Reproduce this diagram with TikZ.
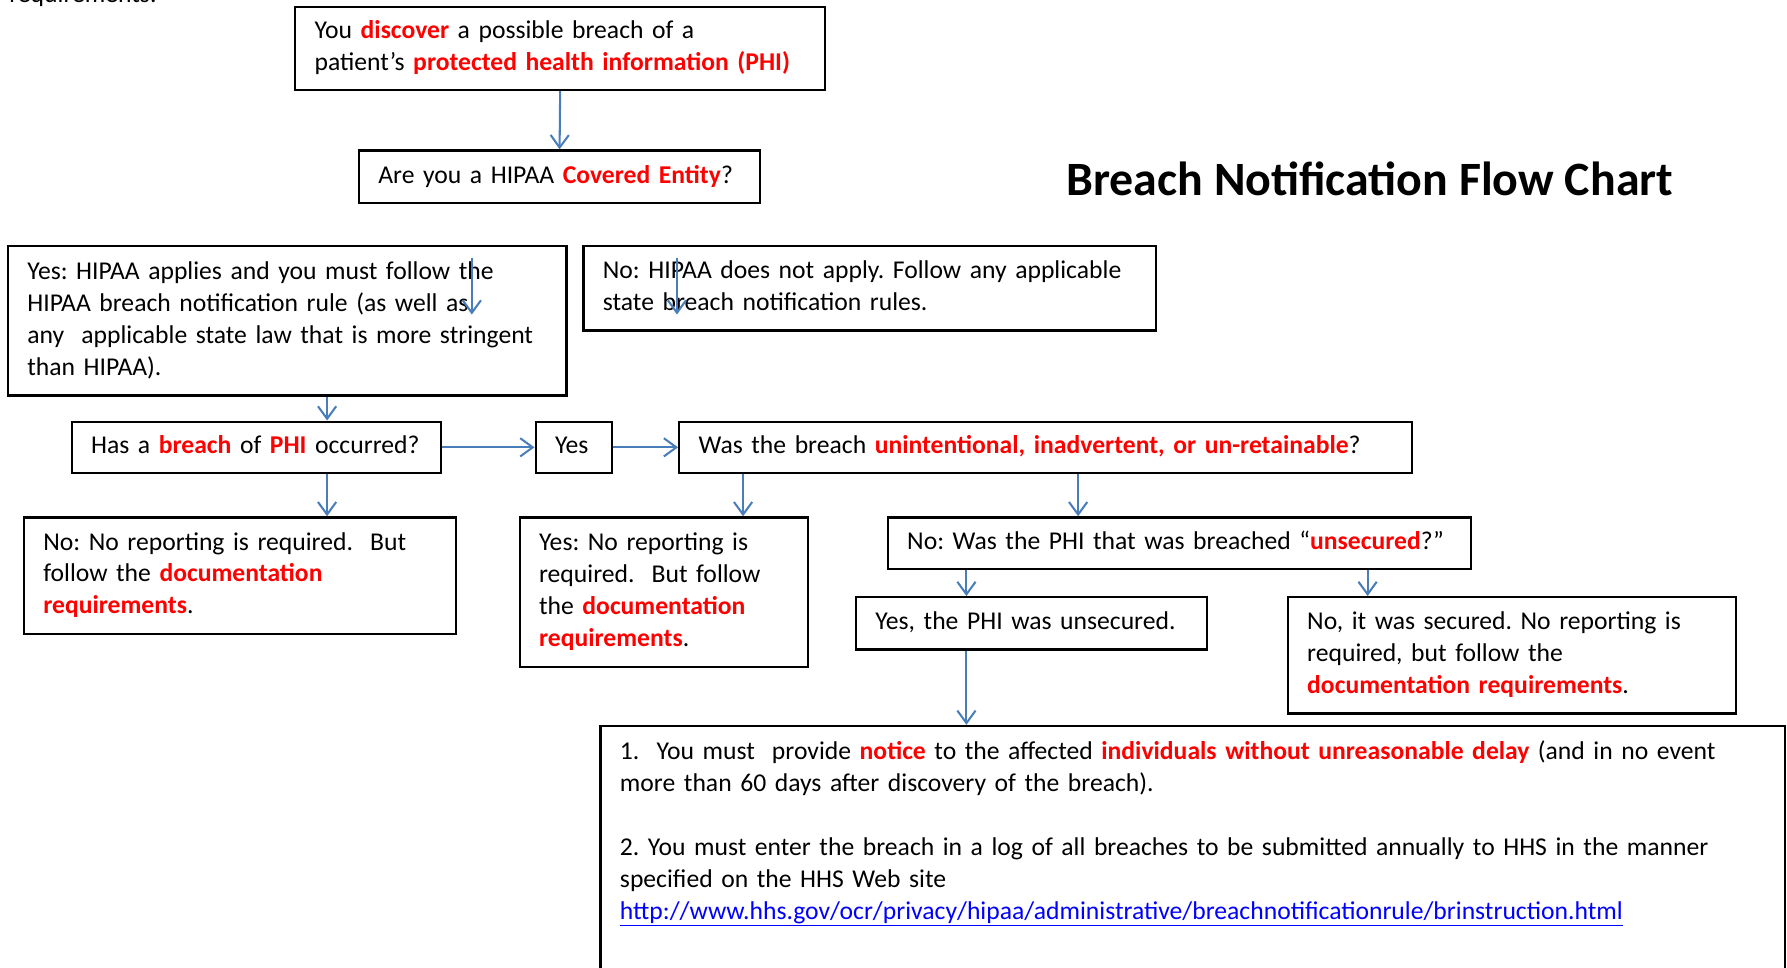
\documentclass[tikz,border=0pt]{standalone}
\usepackage{fontspec}
\setmainfont{Carlito}
\usetikzlibrary{arrows.meta}
\definecolor{hred}{HTML}{FF0000}
\definecolor{arblue}{HTML}{4A7EBB}
\definecolor{lnk}{HTML}{0000FF}
\newcommand\redb[1]{\textcolor{hred}{\bfseries #1}}
\newcommand\Ln[1]{\mbox{\strut #1}}
\frenchspacing
\hyphenpenalty=10000
\exhyphenpenalty=10000
\tikzset{
 box/.style={draw=black, line width=2pt, rectangle, anchor=north west, align=left,
   inner xsep=17pt, inner ysep=0pt, font=\fontsize{22.5}{28}\selectfont},
 arr/.style={draw=arblue, line width=1.8pt, -{Straight Barb[length=11pt,width=16pt]}},
}
\begin{document}
\begin{tikzpicture}[x=1pt,y=-1pt]
\useasboundingbox (0,0) rectangle (1568,849);
\clip (0,0) rectangle (1568,849);
\fill[white] (0,0) rectangle (1568,849);
\node[anchor=base west, inner sep=0pt, font=\fontsize{22.5}{28}\selectfont] (req) at (8,2) {requirements.};
\node[font=\fontsize{42}{46}\selectfont\bfseries, inner sep=0pt] (title) at (1202,157) {Breach Notification Flow Chart};

\node[box, text width=431pt, minimum height=73pt] (n1) at (258,5)
 {\Ln{You \redb{discover} a possible breach of a}\\\Ln{patient’s \redb{protected health information (PHI)}}};
\node[box, text width=318pt, minimum height=46pt] (n2) at (314,131)
 {\Ln{Are you a HIPAA \redb{Covered Entity}?}};
\node[box, text width=456pt, minimum height=131pt] (n3) at (6,215)
 {\Ln{Yes: HIPAA applies and you must follow the}\\\Ln{HIPAA breach notification rule (as well as}\\\Ln{any~ applicable state law that is more stringent}\\\Ln{than HIPAA).}};
\node[box, text width=468pt, minimum height=74pt] (n4) at (511,215)
 {\Ln{No: HIPAA does not apply. Follow any applicable}\\\Ln{state breach notification rules.}};
\node[box, text width=290pt, minimum height=45pt] (n5) at (62,369)
 {\Ln{Has a \redb{breach} of \redb{PHI} occurred?}};
\node[box, text width=33pt, minimum height=45pt] (n6) at (469,369)
 {\Ln{Yes}};
\node[box, text width=609pt, minimum height=45pt] (n7) at (595,369)
 {\Ln{Was the breach \redb{unintentional, inadvertent, or un-retainable}?}};
\node[box, text width=345pt, minimum height=102pt] (n8) at (20,453)
 {\Ln{No: No reporting is required.~ But}\\\Ln{follow the \redb{documentation}}\\\Ln{\redb{requirements}.}};
\node[box, text width=219pt, minimum height=131pt] (n9) at (455,453)
 {\Ln{Yes: No reporting is}\\\Ln{required.~ But follow}\\\Ln{the \redb{documentation}}\\\Ln{\redb{requirements}.}};
\node[box, text width=478pt, minimum height=45pt] (n10) at (778,453)
 {\Ln{No: Was the PHI that was breached “\redb{unsecured}?”}};
\node[box, text width=274pt, minimum height=46pt] (n11) at (750,523)
 {\Ln{Yes, the PHI was unsecured.}};
\node[box, text width=359pt, minimum height=102pt] (n12) at (1129,523)
 {\Ln{No, it was secured. No reporting is}\\\Ln{required, but follow the}\\\Ln{\redb{documentation requirements}.}};
\node[box, text width=1005pt, inner ysep=10pt] (n13) at (526,636)
 {\Ln{1.~ You must~ provide \redb{notice} to the affected \redb{individuals without unreasonable delay} (and in no event}\\
  \Ln{more than 60 days after discovery of the breach).}\\
  \Ln{}\\
  \Ln{2. You must enter the breach in a log of all breaches to be submitted annually to HHS in the manner}\\
  \Ln{specified on the HHS Web site}\\
  \Ln{\textcolor{lnk}{\underline{http://www.hhs.gov/ocr/privacy/hipaa/administrative/breachnotificationrule/brinstruction.html}}}\\
  \Ln{}\\\Ln{}};

\coordinate (x287) at (287,0);
\coordinate (x652) at (652,0);
\coordinate (x946) at (946,0);
\coordinate (x848) at (848,0);
\coordinate (x1200) at (1200,0);
\coordinate (s1a) at (414,226);
\coordinate (s1b) at (414,276);
\coordinate (s2a) at (594,226);
\coordinate (s2b) at (594,276);

\draw[arr] (n1.south) -- (n2.north);
\draw[arr] (n3.south -| x287) -- (n5.north -| x287);
\draw[arr] (n5.south -| x287) -- (n8.north -| x287);
\draw[arr] (n5.east) -- (n6.west);
\draw[arr] (n6.east) -- (n7.west);
\draw[arr] (n7.south -| x652) -- (n9.north -| x652);
\draw[arr] (n7.south -| x946) -- (n10.north -| x946);
\draw[arr] (n10.south -| x848) -- (n11.north -| x848);
\draw[arr] (n10.south -| x1200) -- (n12.north -| x1200);
\draw[arr] (n11.south -| x848) -- (n13.north -| x848);
\draw[arr] (s1a) -- (s1b);
\draw[arr] (s2a) -- (s2b);
\end{tikzpicture}
\end{document}
